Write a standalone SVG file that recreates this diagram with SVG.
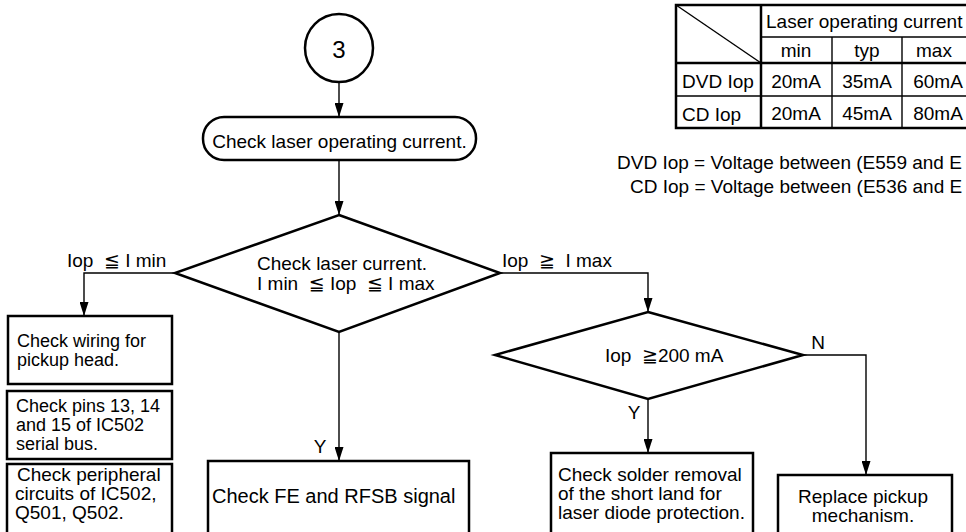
<svg xmlns="http://www.w3.org/2000/svg" width="966" height="532" viewBox="0 0 966 532">
<defs>
<style>
text{font-family:"Liberation Sans","DejaVu Sans",Arial,sans-serif;font-size:19px;fill:#000;white-space:pre}
.box{fill:#fff;stroke:#000;stroke-width:2.5}
.conn{fill:none;stroke:#000;stroke-width:1.4}
.thick{stroke:#000;stroke-width:2.5;fill:none}
.thin{stroke:#000;stroke-width:1.4;fill:none}
.mid{text-anchor:middle}
.s18{font-size:18px}
.s20{font-size:20px}
</style>
<marker id="arr" markerUnits="userSpaceOnUse" viewBox="0 0 14 9" refX="14" refY="4.5" markerWidth="14" markerHeight="9" orient="auto">
<path d="M0,0 L14,4.5 L0,9 z" fill="#000"/>
</marker>
</defs>
<rect width="966" height="532" fill="#fff"/>

<g id="table">
<rect x="676" y="5" width="294" height="123" class="thick"/>
<line x1="676" y1="5" x2="761" y2="63" class="thin"/>
<line x1="761" y1="37" x2="970" y2="37" class="thin"/>
<line x1="676" y1="63" x2="970" y2="63" class="thick"/>
<line x1="676" y1="96" x2="970" y2="96" class="thin"/>
<line x1="761" y1="5" x2="761" y2="128" class="thick"/>
<line x1="832" y1="37" x2="832" y2="128" class="thin"/>
<line x1="902" y1="37" x2="902" y2="128" class="thin"/>
<text x="766" y="28">Laser operating current</text>
<text x="796" y="57" class="mid">min</text>
<text x="867" y="57" class="mid">typ</text>
<text x="934" y="57" class="mid">max</text>
<text x="682" y="88">DVD Iop</text>
<text x="796" y="88" class="mid">20mA</text>
<text x="867" y="88" class="mid">35mA</text>
<text x="938" y="88" class="mid">60mA</text>
<text x="682" y="121">CD Iop</text>
<text x="796" y="120" class="mid">20mA</text>
<text x="867" y="120" class="mid">45mA</text>
<text x="938" y="120" class="mid">80mA</text>
</g>

<g id="notes">
<text x="617" y="169">DVD Iop = Voltage between (E559 and E</text>
<text x="630" y="193">CD Iop = Voltage between (E536 and E</text>
</g>

<g id="connectors">
<line x1="339" y1="82" x2="339" y2="117" class="conn" marker-end="url(#arr)"/>
<line x1="339" y1="160" x2="339" y2="215" class="conn" marker-end="url(#arr)"/>
<polyline points="175,273 84,273 84,316" class="conn" marker-end="url(#arr)"/>
<polyline points="500,273 648,273 648,312" class="conn" marker-end="url(#arr)"/>
<line x1="339" y1="332" x2="339" y2="461" class="conn" marker-end="url(#arr)"/>
<line x1="648" y1="399" x2="648" y2="453" class="conn" marker-end="url(#arr)"/>
<polyline points="803,355 866,355 866,475" class="conn" marker-end="url(#arr)"/>
<text x="67" y="267" xml:space="preserve">Iop  ≦ I min</text>
<text x="502" y="267" xml:space="preserve">Iop  ≧  I max</text>
<text x="320" y="453" class="mid">Y</text>
<text x="634" y="419" class="mid">Y</text>
<text x="818" y="349" class="mid">N</text>
</g>

<g id="start">
<circle cx="339" cy="48" r="34" class="box"/>
<text x="339" y="58" class="mid" style="font-size:24px">3</text>
</g>

<g id="check-current">
<rect x="203" y="117" width="273" height="43" rx="21" ry="21" class="box"/>
<text x="339.5" y="148" class="mid">Check laser operating current.</text>
</g>

<g id="decision-range">
<polygon points="339,215 500,273 339,332 175,273" class="box"/>
<text x="257" y="270">Check laser current.</text>
<text x="257" y="290" xml:space="preserve">I min  ≦ Iop  ≦ I max</text>
</g>

<g id="wiring">
<rect x="8" y="316" width="164" height="68" class="box"/>
<text x="17" y="347" class="s18">Check wiring for</text>
<text x="17" y="366" class="s18">pickup head.</text>
</g>

<g id="pins">
<rect x="7" y="391" width="165" height="68" class="box"/>
<text x="16" y="412" class="s18">Check pins 13, 14</text>
<text x="16" y="431" class="s18">and 15 of IC502</text>
<text x="16" y="450" class="s18">serial bus.</text>
</g>

<g id="peripheral">
<rect x="7" y="464" width="165" height="80" class="box"/>
<text x="17" y="481">Check peripheral</text>
<text x="15" y="500">circuits of IC502,</text>
<text x="15" y="519">Q501, Q502.</text>
</g>

<g id="fe-rfsb">
<rect x="208" y="461" width="261" height="80" class="box"/>
<text x="212" y="503" class="s20">Check FE and RFSB signal</text>
</g>

<g id="decision-200">
<polygon points="648,312 803,355 648,399 495,355" class="box"/>
<text x="605" y="362" xml:space="preserve">Iop  ≧200 mA</text>
</g>

<g id="solder">
<rect x="551" y="453" width="202" height="90" class="box"/>
<text x="558" y="481">Check solder removal</text>
<text x="558" y="500">of the short land for</text>
<text x="558" y="519">laser diode protection.</text>
</g>

<g id="replace">
<rect x="778" y="475" width="174" height="70" class="box"/>
<text x="863" y="503" class="mid">Replace pickup</text>
<text x="863" y="522" class="mid">mechanism.</text>
</g>
</svg>
